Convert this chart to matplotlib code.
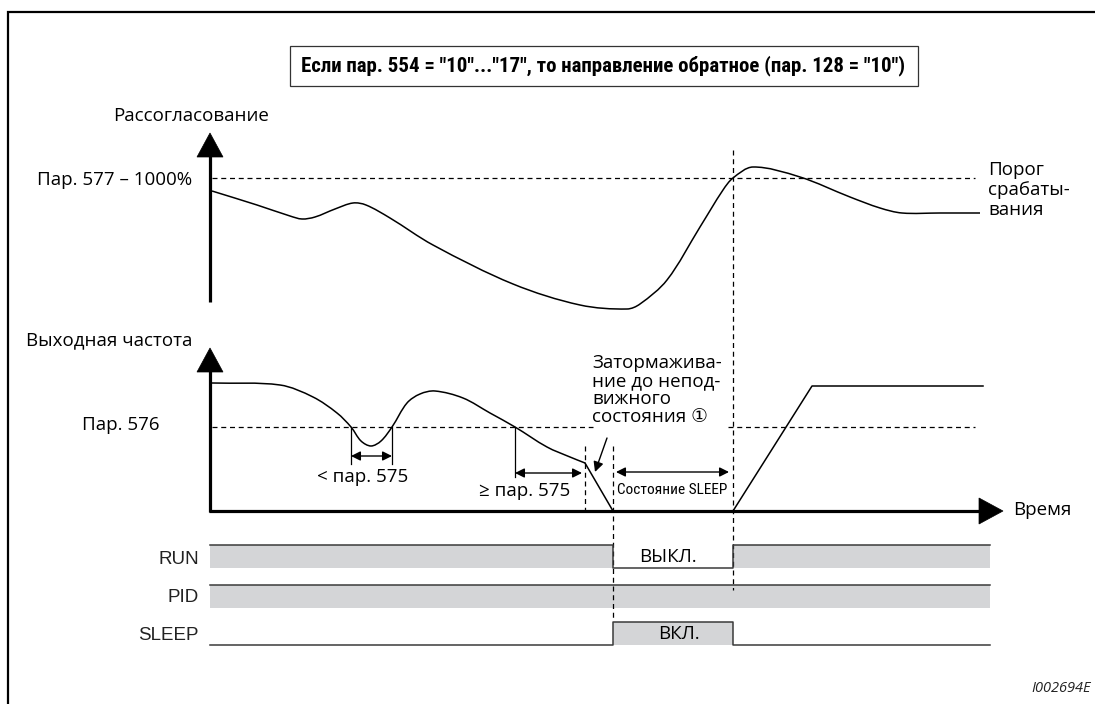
import matplotlib.pyplot as plt
from matplotlib.patches import Polygon, Rectangle, PathPatch
from matplotlib.path import Path

# canvas is laid out in pixel units of the 1095x704 picture
W, H = 1095, 704

# upper curve: Рассогласование (x, y in picture px), smooth part then flat tail
dev_x = [212, 257, 290, 302, 315, 335, 353, 366, 390, 433, 513, 580, 627, 640, 667,
         700, 723, 733, 753, 800, 850, 880, 902, 940, 980]
dev_y = [191, 205, 216, 219, 217, 209, 203, 205, 218, 245, 284, 305, 309, 304, 280,
         227, 190, 178, 167, 177, 197, 208, 213, 213, 213]

# lower curve: Выходная частота, smooth part up to the braking point
freq_x = [212, 280, 313, 337, 351, 361, 371, 381, 392, 407, 420, 435, 463, 490, 515,
          547, 570, 585]
freq_y = [383, 385, 397, 413, 427, 441, 446, 441, 427, 403, 394, 391, 398, 413, 427,
          447, 457, 463]
# straight part: braking to zero, sleep, restart ramp, constant
ramp_x = [585, 613, 733, 812, 983]
ramp_y = [463, 511, 511, 386, 386]

# threshold levels
dev_thr = 178
freq_thr = 427

# signal timing: edges and levels (1 = high / grey)
t_edges = [210, 613, 733, 990]
signals = ["RUN", "PID", "SLEEP"]
levels = {"RUN": [1, 0, 1], "PID": [1, 1, 1], "SLEEP": [0, 1, 0]}
row_bottom = {"RUN": 568, "PID": 608, "SLEEP": 645}
row_label_y = {"RUN": 559, "PID": 598, "SLEEP": 636}
state_text = {"RUN": ("ВЫКЛ.", 668), "SLEEP": ("ВКЛ.", 679)}

grey = "#d4d5d7"
main_font = ["Open Sans", "DejaVu Sans"]
narrow_font = ["Roboto Condensed", "Roboto", "DejaVu Sans"]
FS = 13.5


def smooth_path(xs, ys):
    # cubic Bezier through the given points (tangent from neighbours)
    pts = list(zip(xs, ys))
    n = len(pts)
    d = [((pts[i + 1][0] - pts[i][0]) ** 2 + (pts[i + 1][1] - pts[i][1]) ** 2) ** 0.5
         for i in range(n - 1)]
    tang = []
    for i in range(n):
        if i == 0:
            a, b, s = pts[0], pts[1], d[0]
        elif i == n - 1:
            a, b, s = pts[-2], pts[-1], d[-1]
        else:
            a, b, s = pts[i - 1], pts[i + 1], d[i - 1] + d[i]
        tang.append(((b[0] - a[0]) / s, (b[1] - a[1]) / s))
    verts = [pts[0]]
    codes = [Path.MOVETO]
    for i in range(n - 1):
        p0, p1 = pts[i], pts[i + 1]
        c1 = (p0[0] + tang[i][0] * d[i] / 3, p0[1] + tang[i][1] * d[i] / 3)
        c2 = (p1[0] - tang[i + 1][0] * d[i] / 3, p1[1] - tang[i + 1][1] * d[i] / 3)
        verts += [c1, c2, p1]
        codes += [Path.CURVE4] * 3
    return Path(verts, codes)


def fit_text(t, width):
    # shrink a text until it is as wide as the reference
    r = fig.canvas.get_renderer()
    w = t.get_window_extent(r).width
    if w > width:
        t.set_fontsize(t.get_fontsize() * width / w)


fig = plt.figure(figsize=(W / 100, H / 100), dpi=100)
ax = fig.add_axes([0, 0, 1, 1])
ax.set_xlim(0, W)
ax.set_ylim(H, 0)
ax.axis("off")

# outer frame
ax.plot([8, 8, W], [H, 12, 12], color="black", lw=1.6, solid_joinstyle="miter")

# title box
ax.add_patch(Rectangle((290, 46), 628, 40, fill=False, ec="#333333", lw=0.9))
title = ax.text(603, 66, 'Если пар. 554 = "10"..."17", то направление обратное (пар. 128 = "10")',
                ha="center", va="center", fontsize=15, fontweight="bold",
                family=narrow_font)
fit_text(title, 612)


def up_arrow(x, y_tip, y_bot):
    ax.plot([x, x], [y_tip + 20, y_bot], color="black", lw=2.3, solid_capstyle="butt")
    ax.add_patch(Polygon([[x, y_tip], [x - 13, y_tip + 24], [x + 13, y_tip + 24]],
                         closed=True, fc="black", ec="black", lw=0.5))


# upper diagram
ax.text(113, 116, "Рассогласование", ha="left", va="center", fontsize=FS, family=main_font)
up_arrow(210, 133, 302)
ax.plot([212, 975], [dev_thr, dev_thr], color="black", lw=0.9, ls=(0, (4, 3)))
ax.text(192, 180, "Пар. 577 – 1000%", ha="right", va="center", fontsize=FS,
        family=main_font)
ax.add_patch(PathPatch(smooth_path(dev_x, dev_y), fill=False, ec="black", lw=1.1))
ax.text(988, 190, "Порог\nсрабаты-\nвания", ha="left", va="center", fontsize=FS,
        family=main_font, linespacing=1.12)

# lower diagram
ax.text(192, 340, "Выходная частота", ha="right", va="center", fontsize=FS,
        family=main_font)
up_arrow(210, 348, 512)
ax.plot([209, 982], [511, 511], color="black", lw=2.3, solid_capstyle="butt")
ax.add_patch(Polygon([[1003, 511], [979, 498], [979, 524]], closed=True, fc="black",
                     ec="black", lw=0.5))
ax.text(1013, 510, "Время", ha="left", va="center", fontsize=FS, family=main_font)
ax.text(160, 425, "Пар. 576", ha="right", va="center", fontsize=FS, family=main_font)
ax.plot([212, 593], [freq_thr, freq_thr], color="black", lw=0.9, ls=(0, (4, 3)))
ax.plot([728, 975], [freq_thr, freq_thr], color="black", lw=0.9, ls=(0, (4, 3)))
ax.add_patch(PathPatch(smooth_path(freq_x, freq_y), fill=False, ec="black", lw=1.1))
ax.plot(ramp_x, ramp_y, color="black", lw=1.1)

# vertical timing marks
ax.plot([585, 585], [446, 511], color="black", lw=0.9, ls=(0, (4, 3)))
ax.plot([613, 613], [446, 618], color="black", lw=0.9, ls=(0, (4, 3)))
ax.plot([733, 733], [150, 590], color="black", lw=0.9, ls=(0, (4, 3)))

# duration markers
for x in (351, 392):
    ax.plot([x, x], [freq_thr, 464], color="black", lw=0.9)
ax.plot([515, 515], [freq_thr, 477], color="black", lw=0.9)
dbl = dict(arrowstyle="<|-|>", color="black", lw=1.0, mutation_scale=14, shrinkA=0, shrinkB=0)
ax.annotate("", xy=(351, 456), xytext=(392, 456), arrowprops=dbl)
ax.annotate("", xy=(515, 473), xytext=(582, 473), arrowprops=dbl)
ax.annotate("", xy=(616, 472), xytext=(729, 472), arrowprops=dbl)
ax.text(363, 477, "< пар. 575", ha="center", va="center", fontsize=FS, family=main_font)
ax.text(525, 491, "≥ пар. 575", ha="center", va="center", fontsize=FS, family=main_font)
sleep_txt = ax.text(672, 490, "Состояние SLEEP", ha="center", va="center", fontsize=13,
                    family=narrow_font)
fit_text(sleep_txt, 110)

ax.annotate("", xy=(595, 472), xytext=(607, 438),
            arrowprops=dict(arrowstyle="-|>", color="black", lw=1.0, mutation_scale=15,
                            shrinkA=0, shrinkB=0))
ax.text(592, 390, "Затормажива-\nние до непод-\nвижного\nсостояния ①", ha="left",
        va="center", fontsize=FS, family=main_font, linespacing=1.02)

# signal rows
for name in signals:
    yb = row_bottom[name]
    yt = yb - 23
    lv = levels[name]
    xs, ys = [], []
    for i, level in enumerate(lv):
        x0, x1 = t_edges[i], t_edges[i + 1]
        yy = yt if level else yb
        if level:
            ax.add_patch(Rectangle((x0, yt), x1 - x0, 23, fc=grey, ec="none"))
        xs += [x0, x1]
        ys += [yy, yy]
    ax.plot(xs, ys, color="#3a3a3a", lw=1.1)
    ax.text(199, row_label_y[name], name, ha="right", va="center", fontsize=13.5,
            family=["Liberation Sans", "DejaVu Sans"], color="#222222")
    if name in state_text:
        label, xc = state_text[name]
        ax.text(xc, yb - 11, label, ha="center", va="center", fontsize=FS,
                family=main_font)

ax.text(1031, 688, "I002694E", ha="left", va="center", fontsize=10.5, style="italic",
        family=main_font, color="#222222")

fig.savefig("out.png", dpi=100)
plt.close(fig)
